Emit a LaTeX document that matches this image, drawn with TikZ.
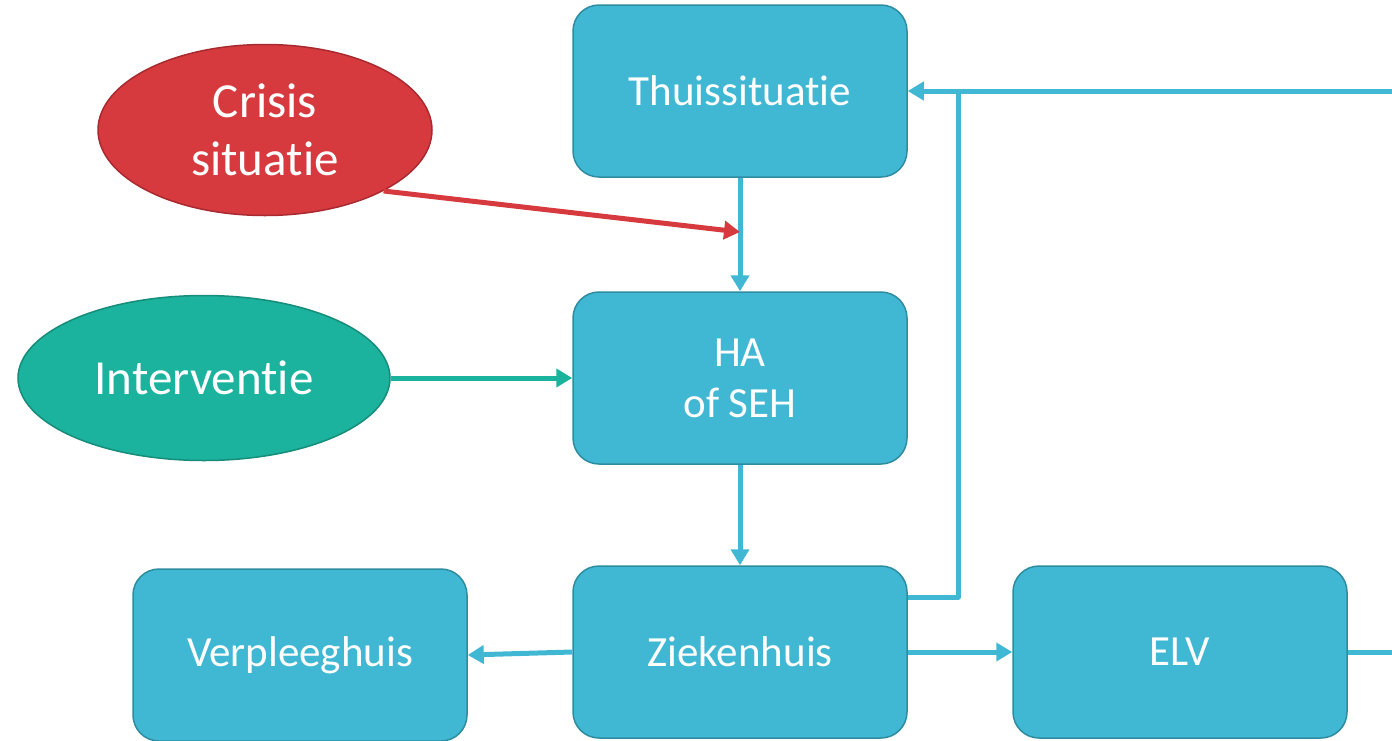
\documentclass[tikz,border=0pt]{standalone}
\usepackage{fontspec}
\setmainfont[Ligatures=NoCommon]{Carlito}
\usetikzlibrary{arrows.meta,shapes.geometric}
\definecolor{boxblue}{HTML}{41B8D3}
\definecolor{boxedge}{HTML}{2E8CA0}
\definecolor{crisisred}{HTML}{D63A3F}
\definecolor{crisisedge}{HTML}{A82A2F}
\definecolor{interteal}{HTML}{1BB39D}
\definecolor{interedge}{HTML}{168C7A}

\begin{document}
\begin{tikzpicture}[x=1pt,y=-1pt,
    box/.style={draw=boxedge,line width=1.5pt,fill=boxblue,rounded corners=26pt,
      minimum width=334pt,minimum height=172pt,inner sep=0pt,
      text=white,align=center,font=\fontsize{43}{51}\selectfont},
    blob/.style={ellipse,line width=1.5pt,inner sep=0pt,
      text=white,align=center,font=\fontsize{49}{58}\selectfont},
    link/.style={line width=5pt,draw=boxblue,-{Triangle[length=16pt,width=18pt]}},
    plain/.style={line width=5pt,draw=boxblue,line join=round}]
  \useasboundingbox (0,0) rectangle (1392,740);

  % the care path
  \node[box] (thuis) at (740,91) {Thuissituatie};
  \node[box] (haseh) at (740,378) {HA\\of SEH};
  \node[box] (zkh) at (740,652) {Ziekenhuis};
  \node[box] (vph) at (300,655) {Verpleeghuis};
  \node[box] (elv) at (1180,652) {ELV};

  % what happens at home
  \node[blob,fill=crisisred,draw=crisisedge,minimum width=334pt,minimum height=171pt]
    (crisis) at (265,130) {Crisis\\situatie};
  \node[blob,fill=interteal,draw=interedge,minimum width=372pt,minimum height=165pt]
    (interv) at (204,378) {Interventie};

  \coordinate (hit) at (740,232);
  \coordinate (bend) at (958,91);
  \coordinate (rin) at (1392,91);
  \coordinate (rout) at (1392,652);

  \draw[link] (thuis) -- (haseh);
  \draw[link] (haseh) -- (zkh);
  \draw[link] (zkh) -- (elv);
  \draw[link] (zkh.west) -- (vph.east);
  \draw[link] (rin) -- (thuis.east);
  \draw[plain] ([yshift=55pt]zkh.east) -| (bend);
  \draw[plain] (elv) -- (rout);
  \draw[link,draw=crisisred] (crisis.south east) -- (hit);
  \draw[link,draw=interteal] (interv) -- (haseh);
\end{tikzpicture}
\end{document}
